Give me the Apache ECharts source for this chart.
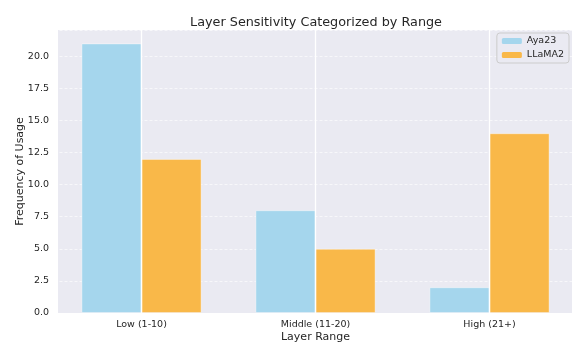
<!DOCTYPE html>
<html>
<head>
<meta charset="utf-8">
<script src="https://cdn.jsdelivr.net/npm/echarts@6/dist/echarts.min.js"></script>
<style>
html,body{margin:0;padding:0;background:#fff;}
#chart{width:572px;height:343px;}
</style>
</head>
<body>
<div id="chart"></div>
<script>
var categories = ['Low (1-10)', 'Middle (11-20)', 'High (21+)'];
var aya23 = [21, 8, 2];
var llama2 = [12, 5, 14];
var seriesNames = ['Aya23', 'LLaMA2'];

var chart = echarts.init(document.getElementById('chart'), null, {renderer: 'canvas'});
var font = 'DejaVu Sans';
var txt = '#262626';

chart.setOption({
  animation: false,
  backgroundColor: '#ffffff',
  title: {
    text: 'Layer Sensitivity Categorized by Range',
    left: 311, top: 11, textAlign: 'center',
    textStyle: {fontFamily: font, fontSize: 12.8, fontWeight: 'normal', color: txt}
  },
  legend: {
    data: seriesNames,
    right: 3, top: 33,
    orient: 'vertical',
    itemWidth: 20, itemHeight: 6, itemGap: 4,
    padding: [3, 5, 3, 5],
    backgroundColor: 'rgba(234,234,242,0.85)',
    borderColor: '#cccccc', borderWidth: 1, borderRadius: 3,
    textStyle: {fontFamily: font, fontSize: 9.5, color: txt},
    itemStyle: {borderWidth: 0}
  },
  grid: [
    {left: 58, top: 30, right: -2, height: 283, show: true, backgroundColor: '#EAEAF2', borderWidth: 0, containLabel: false, outerBoundsMode: 'none'},
    {left: 54.5, top: 30, width: 522, height: 283, containLabel: false, outerBoundsMode: 'none'}
  ],
  xAxis: [
    {gridIndex: 0, type: 'value', show: false, min: 0, max: 1},
    {
      gridIndex: 1, type: 'category', data: categories,
      name: 'Layer Range', nameLocation: 'middle', nameGap: 19, nameMoveOverlap: false,
      nameTextStyle: {fontFamily: font, fontSize: 11, color: txt},
      axisLine: {show: false}, axisTick: {show: false},
      axisLabel: {fontFamily: font, fontSize: 9.5, color: txt, margin: 7},
      splitLine: {show: false}
    }
  ],
  yAxis: [
    {gridIndex: 0, type: 'value', show: false, min: 0, max: 1},
    {
      gridIndex: 1, type: 'value', min: 0, max: 22.05, interval: 2.5,
      name: 'Frequency of Usage', nameLocation: 'middle', nameGap: 29, nameMoveOverlap: false,
      nameTextStyle: {fontFamily: font, fontSize: 11, color: txt},
      axisLine: {show: false}, axisTick: {show: false},
      axisLabel: {fontFamily: font, fontSize: 9.5, color: txt, margin: 5.5,
        formatter: function (v) { return v.toFixed(1); },
        showMaxLabel: false},
      splitLine: {show: true, lineStyle: {color: 'rgba(255,255,255,0.75)', width: 0.8, type: [3, 2]}}
    }
  ],
  series: [
    {
      name: seriesNames[0], type: 'bar', xAxisIndex: 1, yAxisIndex: 1,
      data: aya23, barWidth: 60, barGap: '0%',
      itemStyle: {color: '#A5D6ED', borderColor: 'rgba(255,255,255,0.5)', borderWidth: 0.8}
    },
    {
      name: seriesNames[1], type: 'bar', xAxisIndex: 1, yAxisIndex: 1,
      data: llama2, barWidth: 60, barGap: '0%',
      itemStyle: {color: '#F9B849', borderColor: 'rgba(255,255,255,0.5)', borderWidth: 0.8}
    },
    {
      name: 'grid', type: 'line', xAxisIndex: 1, yAxisIndex: 1,
      data: [], silent: true, z: 3,
      markLine: {
        silent: true, symbol: 'none', label: {show: false},
        lineStyle: {color: '#ffffff', width: 1.3, type: 'solid'},
        data: categories.map(function (c) { return {xAxis: c}; })
      }
    }
  ]
});
</script>
</body>
</html>
